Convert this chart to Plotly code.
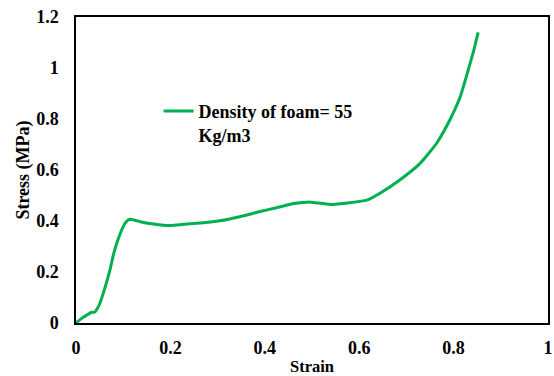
import plotly.graph_objects as go

strain = [0.0, 0.012, 0.0226, 0.033, 0.039, 0.049, 0.061, 0.072, 0.080, 0.090, 0.100, 0.107, 0.114,
          0.125, 0.136, 0.164, 0.199, 0.234, 0.270, 0.305, 0.347, 0.390, 0.425, 0.461, 0.490,
          0.503, 0.538, 0.580, 0.616, 0.644, 0.686, 0.729, 0.764, 0.792, 0.814, 0.831, 0.842, 0.852]
stress = [0.0, 0.018, 0.031, 0.042, 0.042, 0.070, 0.136, 0.208, 0.273, 0.332, 0.378, 0.398, 0.407,
          0.403, 0.397, 0.388, 0.382, 0.388, 0.393, 0.401, 0.417, 0.437, 0.452, 0.469, 0.474,
          0.473, 0.465, 0.472, 0.482, 0.509, 0.561, 0.626, 0.705, 0.796, 0.887, 0.992, 1.064, 1.14]

series_name = "Density of foam= 55<br>Kg/m3"
x_ticks = [0, 0.2, 0.4, 0.6, 0.8, 1]
x_tick_labels = ["0", "0.2", "0.4", "0.6", "0.8", "1"]
y_ticks = [0, 0.2, 0.4, 0.6, 0.8, 1.0, 1.2]
y_tick_labels = ["0", "0.2", "0.4", "0.6", "0.8", "1", "1.2"]

FAM = "'Liberation Serif', 'Times New Roman', 'DejaVu Serif', serif"

fig = go.Figure()
fig.add_trace(go.Scatter(x=strain, y=stress, mode="lines", name="<b>%s</b>" % series_name,
                         line=dict(color="#00B050", width=3, shape="spline", smoothing=0.5)))

fig.update_layout(
    width=554, height=376,
    margin=dict(l=76, r=6, t=17, b=53, autoexpand=False),
    paper_bgcolor="white", plot_bgcolor="white",
    font=dict(family=FAM, size=18, color="#000000"),
    showlegend=True,
    legend=dict(x=0.175, y=0.752, xanchor="left", yanchor="top", bgcolor="rgba(0,0,0,0)",
                font=dict(family=FAM, size=18, color="#000000"),
                valign="top", itemwidth=30, tracegroupgap=0),
)
fig.update_xaxes(range=[0, 1], tickvals=x_ticks, ticktext=["<b>%s</b>" % t for t in x_tick_labels],
                 showgrid=False, zeroline=False, showline=True, linecolor="black", linewidth=1.5,
                 mirror=True, ticks="", automargin=False, ticklabelstandoff=8,
                 ticklabeloverflow="allow",
                 tickfont=dict(family=FAM, size=18),
                 title=dict(text="<b>Strain</b>", font=dict(family=FAM, size=16.5)))
fig.update_yaxes(range=[0, 1.2], tickvals=y_ticks, ticktext=["<b>%s</b>" % t for t in y_tick_labels],
                 showgrid=False, zeroline=False, showline=True, linecolor="black", linewidth=1.5,
                 mirror=True, ticks="", automargin=False, ticklabelstandoff=12,
                 ticklabeloverflow="allow",
                 tickfont=dict(family=FAM, size=18),
                 title=dict(text="<b>Stress (MPa)</b>", standoff=2, font=dict(family=FAM, size=18)))

fig.write_html("out.html", config={"displayModeBar": False},
               post_script="document.body.style.margin='0px';")
